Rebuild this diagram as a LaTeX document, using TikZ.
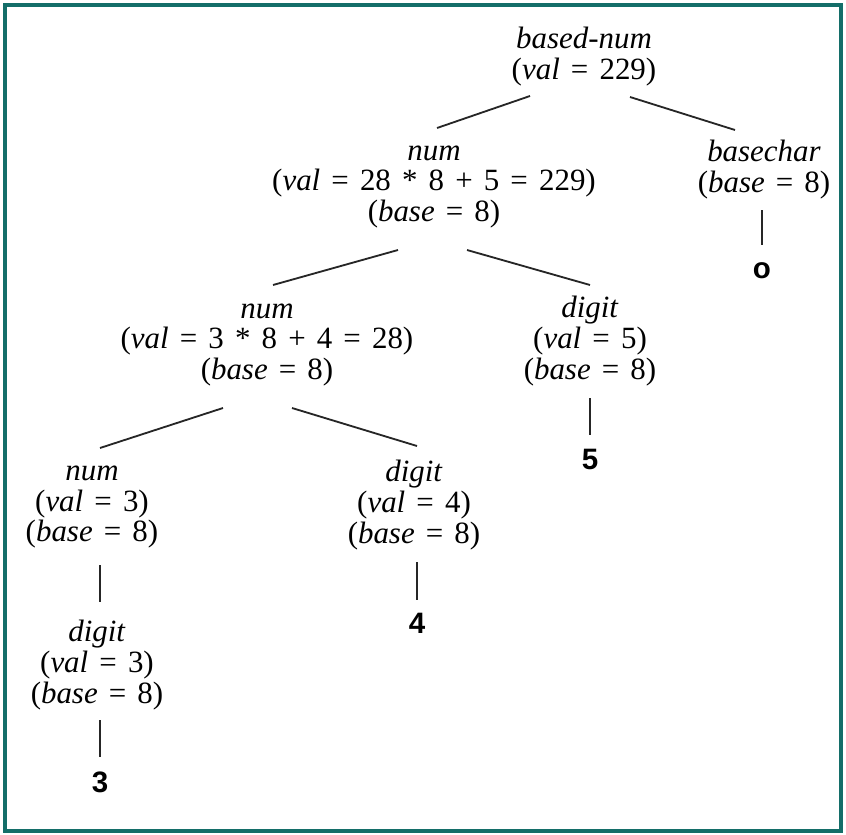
\documentclass[tikz,border=0pt]{standalone}
\usepackage{fontspec}
\setmainfont{Liberation Serif}
\newfontfamily\leaffont{Liberation Sans}
\usetikzlibrary{calc}
\definecolor{rahmen}{RGB}{20,110,105}
\newcommand{\op}[1]{\hspace{0.36em}#1\hspace{0.36em}}

\begin{document}
\begin{tikzpicture}[
    x=0.025cm, y=-0.025cm,
    every node/.style={font=\fontsize{22}{22}\selectfont},
    attr/.style={
        align=center,
        inner sep=0pt
    },
    blatt/.style={
        inner sep=0pt,
        font=\leaffont\bfseries\fontsize{21}{21}\selectfont
    },
    kante/.style={
        draw=black!85,
        line width=1.3pt
    }
]

\useasboundingbox (0,0) rectangle (846,834);
\draw[rahmen, line width=2.2pt] (5,5) rectangle (841,831);

% ============================================================
% WURZEL
% ============================================================

\node[attr] (root) at (584,57)
{\textit{based-num}\\
(\textit{val}\op{=}229)};

% ============================================================
% EBENE 1
% ============================================================

\node[attr] (num1) at (434,187)
{\textit{num}\\
(\textit{val}\op{=}28\op{*}8\op{+}5\op{=}229)\\
(\textit{base}\op{=}8)};

\node[attr] (basechar) at (764,170)
{\textit{basechar}\\
(\textit{base}\op{=}8)};

\node[blatt] (leafo) at (762,271) {o};

% ============================================================
% EBENE 2
% ============================================================

\node[attr] (num2) at (267,345)
{\textit{num}\\
(\textit{val}\op{=}3\op{*}8\op{+}4\op{=}28)\\
(\textit{base}\op{=}8)};

\node[attr] (digit5) at (590,341)
{\textit{digit}\\
(\textit{val}\op{=}5)\\
(\textit{base}\op{=}8)};

\node[blatt] (leaf5) at (590,459) {5};

% ============================================================
% EBENE 3
% ============================================================

\node[attr] (num3) at (92,507)
{\textit{num}\\
(\textit{val}\op{=}3)\\
(\textit{base}\op{=}8)};

\node[attr] (digit4) at (414,505)
{\textit{digit}\\
(\textit{val}\op{=}4)\\
(\textit{base}\op{=}8)};

\node[blatt] (leaf4) at (417,623) {4};

% ============================================================
% EBENE 4
% ============================================================

\node[attr] (digit3) at (97,665)
{\textit{digit}\\
(\textit{val}\op{=}3)\\
(\textit{base}\op{=}8)};

\node[blatt] (leaf3) at (100,782) {3};

% Kanten
\draw[kante] ($(root)+(-54,39)$) -- ($(num1)+(3,-59)$);
\draw[kante] ($(root)+(46,40)$) -- ($(basechar)+(-29,-40)$);
\draw[kante] ($(basechar)+(-2,40)$) -- ($(leafo)+(0,-26)$);

\draw[kante] ($(num1)+(-36,63)$) -- ($(num2)+(6,-60)$);
\draw[kante] ($(num1)+(33,63)$) -- ($(digit5)+(0,-56)$);
\draw[kante] ($(digit5)+(0,57)$) -- ($(leaf5)+(0,-24)$);

\draw[kante] ($(num2)+(-44,63)$) -- ($(num3)+(8,-59)$);
\draw[kante] ($(num2)+(25,63)$) -- ($(digit4)+(3,-59)$);
\draw[kante] ($(digit4)+(3,57)$) -- ($(leaf4)+(0,-23)$);

\draw[kante] ($(num3)+(8,58)$) -- ($(digit3)+(3,-63)$);
\draw[kante] ($(digit3)+(3,55)$) -- ($(leaf3)+(0,-25)$);

\end{tikzpicture}
\end{document}
